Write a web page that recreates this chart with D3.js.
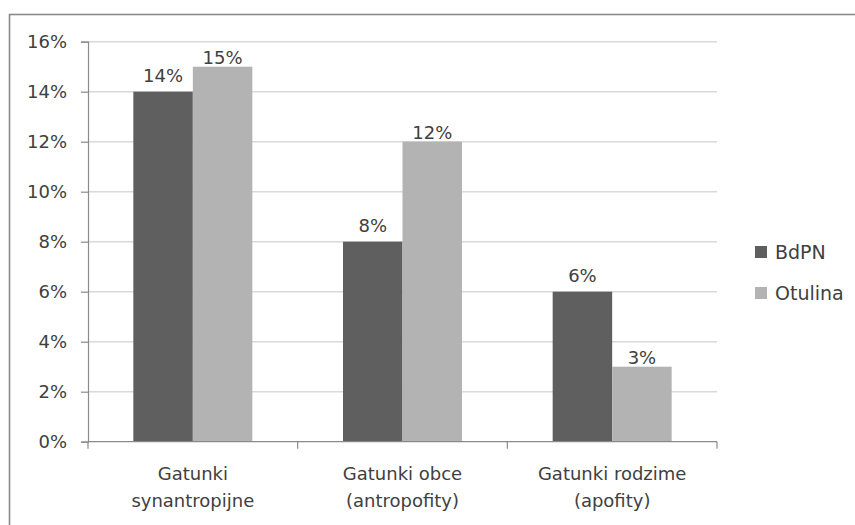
<!DOCTYPE html>
<html>
  <meta charset="utf-8" />
  <head>
    <script src="https://cdnjs.cloudflare.com/ajax/libs/d3/7.8.5/d3.min.js"></script>
    <style>
      body { margin: 0; background: #fff; }
      text { font-family: "DejaVu Sans", sans-serif; fill: #404040; }
    </style>
  </head>
  <body>
    <script>
    const categories = [
        ["Gatunki", "synantropijne"],
        ["Gatunki obce", "(antropofity)"],
        ["Gatunki rodzime", "(apofity)"],
    ];
    const seriesNames = ["BdPN", "Otulina"];
    const bdpn = [14, 8, 6];
    const otulina = [15, 12, 3];
    const yTicks = [0, 2, 4, 6, 8, 10, 12, 14, 16];

    const colors = ["#5f5f5f", "#b3b3b3"];
    const labelGap = [10, 3];

    const width = 855, height = 525;
    const plot = { left: 88, right: 717, top: 41.7, bottom: 441.7 };

    const svg = d3
        .select("body")
        .append("svg")
        .attr("width", width)
        .attr("height", height);

    // outer chart border (only top & left are inside the frame)
    svg.append("rect")
        .attr("x", 9.5)
        .attr("y", 14.5)
        .attr("width", 1000)
        .attr("height", 1000)
        .attr("fill", "none")
        .attr("stroke", "#8a8a8a")
        .attr("stroke-width", 1.6);

    const x0 = d3.scaleBand()
        .domain(d3.range(categories.length))
        .range([plot.left, plot.right]);

    const x1 = d3.scaleBand()
        .domain(d3.range(seriesNames.length))
        .range([0, 119])
        .paddingInner(0);

    const y = d3.scaleLinear().domain([0, 16]).range([plot.bottom, plot.top]);

    // gridlines
    svg.append("g")
        .selectAll("line")
        .data(yTicks.filter((d) => d > 0))
        .join("line")
        .attr("x1", plot.left)
        .attr("x2", plot.right)
        .attr("y1", (d) => y(d))
        .attr("y2", (d) => y(d))
        .attr("stroke", "#d9d9d9")
        .attr("stroke-width", 1.5);

    // y axis
    const yAxis = svg.append("g")
        .attr("transform", `translate(${plot.left},0)`)
        .call(d3.axisLeft(y).tickValues(yTicks).tickSize(7).tickPadding(14)
            .tickFormat((d) => d + "%"));
    yAxis.select(".domain").attr("stroke", "#8a8a8a").attr("stroke-width", 1.2);
    yAxis.selectAll(".tick line").attr("stroke", "#8a8a8a").attr("stroke-width", 1.2);
    yAxis.selectAll(".tick text")
        .attr("font-size", 18)
        .attr("font-family", "DejaVu Sans, sans-serif")
        .attr("fill", "#404040");

    // bars
    const data = categories.map((c, i) => [bdpn[i], otulina[i]]);
    const groups = svg.append("g")
        .selectAll("g")
        .data(data)
        .join("g")
        .attr("transform", (d, i) =>
            `translate(${x0(i) + (x0.bandwidth() - x1.range()[1]) / 2},0)`);

    groups.selectAll("rect")
        .data((d) => d)
        .join("rect")
        .attr("x", (d, j) => x1(j))
        .attr("y", (d) => y(d))
        .attr("width", x1.bandwidth())
        .attr("height", (d) => y(0) - y(d))
        .attr("fill", (d, j) => colors[j]);

    groups.selectAll("text")
        .data((d) => d)
        .join("text")
        .attr("x", (d, j) => x1(j) + x1.bandwidth() / 2)
        .attr("y", (d, j) => y(d) - labelGap[j])
        .attr("text-anchor", "middle")
        .attr("font-size", 18)
        .text((d) => d + "%");

    // x axis
    const xAxis = svg.append("g");
    xAxis.append("line")
        .attr("x1", plot.left)
        .attr("x2", plot.right)
        .attr("y1", plot.bottom)
        .attr("y2", plot.bottom)
        .attr("stroke", "#8a8a8a")
        .attr("stroke-width", 1.2);
    xAxis.selectAll(".tk")
        .data(d3.range(categories.length + 1))
        .join("line")
        .attr("class", "tk")
        .attr("x1", (i) => plot.left + i * x0.step())
        .attr("x2", (i) => plot.left + i * x0.step())
        .attr("y1", plot.bottom)
        .attr("y2", plot.bottom + 7)
        .attr("stroke", "#8a8a8a")
        .attr("stroke-width", 1.2);

    const catLabels = xAxis.selectAll(".cat")
        .data(categories)
        .join("text")
        .attr("class", "cat")
        .attr("text-anchor", "middle")
        .attr("font-size", 18);
    catLabels.selectAll("tspan")
        .data((d, i) => d.map((t) => ({ t, i })))
        .join("tspan")
        .attr("x", (d) => x0(d.i) + x0.bandwidth() / 2)
        .attr("y", (d, k) => 480 + k * 27)
        .text((d) => d.t);

    // legend
    const legend = svg.append("g")
        .selectAll("g")
        .data(seriesNames)
        .join("g")
        .attr("transform", (d, i) => `translate(755,${246 + i * 41})`);
    legend.append("rect")
        .attr("width", 12)
        .attr("height", 12)
        .attr("fill", (d, i) => colors[i]);
    legend.append("text")
        .attr("x", 20)
        .attr("y", 12.5)
        .attr("font-size", 19)
        .text((d) => d);
</script>
</body>
</html>
